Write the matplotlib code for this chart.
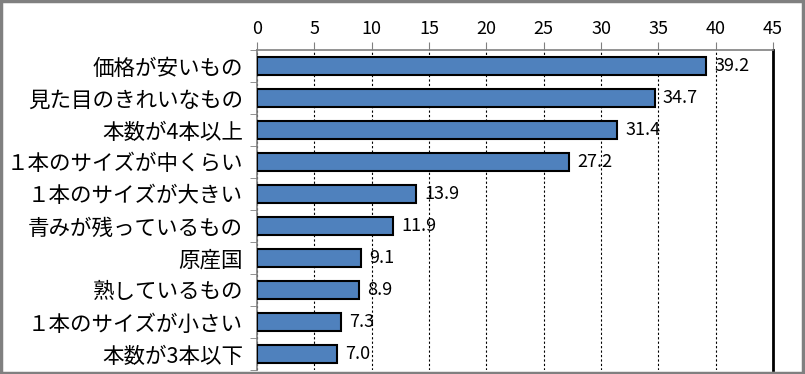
import matplotlib
matplotlib.use("Agg")
import matplotlib.pyplot as plt

plt.rcParams['font.family'] = ['Noto Sans CJK JP', 'DejaVu Sans']

categories = ['価格が安いもの', '見た目のきれいなもの', '本数が4本以上', '１本のサイズが中くらい',
              '１本のサイズが大きい', '青みが残っているもの', '原産国', '熟しているもの',
              '１本のサイズが小さい', '本数が3本以下']
values = [39.2, 34.7, 31.4, 27.2, 13.9, 11.9, 9.1, 8.9, 7.3, 7.0]
xticks = [0, 5, 10, 15, 20, 25, 30, 35, 40, 45]

fig = plt.figure(figsize=(8.05, 3.74), dpi=100)
ax = fig.add_axes([257 / 805, 4 / 374, 516 / 805, 320 / 374])

y = list(range(len(categories)))
ax.barh(y, values, height=0.55, color='#4F81BD', edgecolor='black', linewidth=1.5, zorder=3)
for yi, v in zip(y, values):
    ax.text(v + 0.7, yi, f'{v:.1f}', va='center', ha='left', fontsize=13, zorder=4)

ax.set_xlim(0, 45)
ax.set_ylim(len(categories) - 0.5, -0.5)
ax.set_xticks(xticks)
ax.xaxis.tick_top()
ax.tick_params(axis='x', direction='out', length=6, color='#808080', labelsize=13, pad=3)
ax.set_yticks(y)
ax.set_yticklabels(categories, fontsize=15.5)
ax.set_yticks([i + 0.5 for i in range(-1, len(categories))], minor=True)
ax.tick_params(axis='y', which='major', length=0, pad=10)
ax.tick_params(axis='y', which='minor', length=5, color='#808080')
ax.grid(axis='x', color='black', linestyle=(0, (2, 2)), linewidth=0.8, zorder=0)

for s in ['top', 'left']:
    ax.spines[s].set_color('#808080')
    ax.spines[s].set_linewidth(1.2)
ax.spines['bottom'].set_visible(False)
ax.spines['right'].set_color('black')
ax.spines['right'].set_linewidth(2)

fig.patches.append(plt.Rectangle((0.001, 0.002), 0.997, 0.995, transform=fig.transFigure,
                                 fill=False, edgecolor='#808080', linewidth=2.5))

fig.savefig('out.png', dpi=100)
